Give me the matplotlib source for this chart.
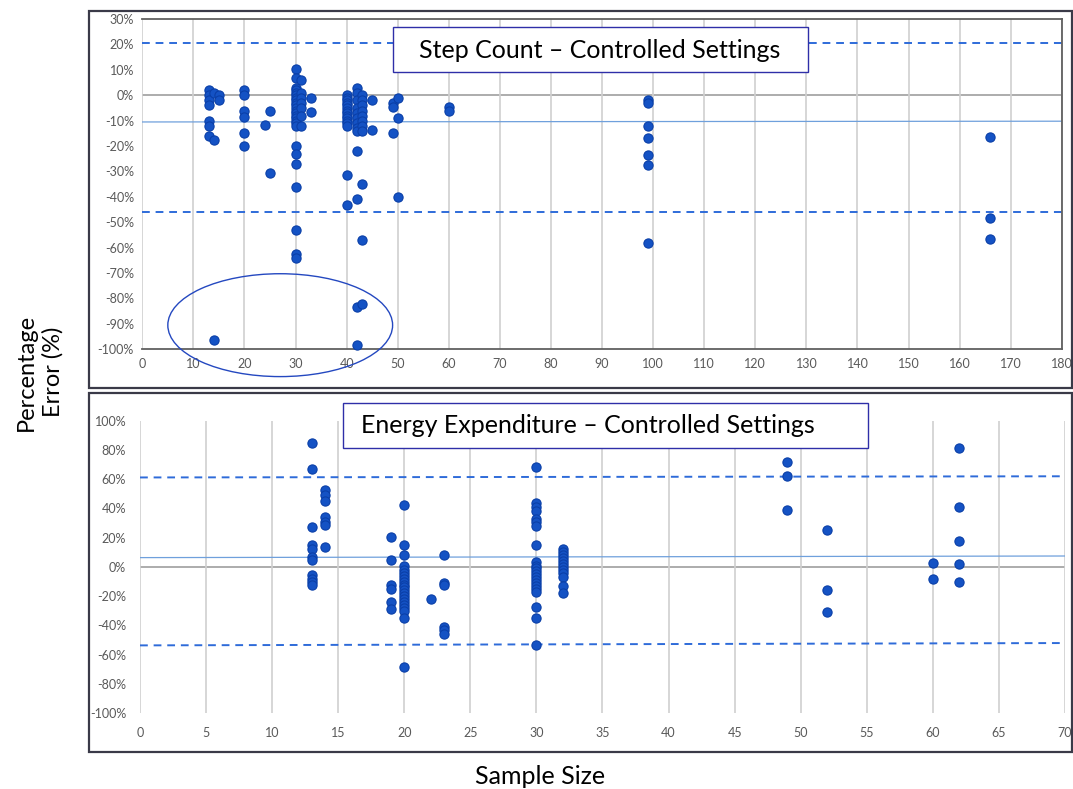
import matplotlib.pyplot as plt
from matplotlib.patches import Ellipse, Rectangle
from matplotlib.ticker import FuncFormatter, MultipleLocator

plt.rcParams['font.family'] = ['Lato', 'DejaVu Sans']

# Step count panel: sample size -> list of percentage errors
step_x = [13] * 7 + [14] * 3 + [15] * 2 + [20] * 6 + [24] + [25] * 2 \
    + [30] * 25 + [31] * 7 + [33] * 2 \
    + [40] * 15 + [42] * 13 + [43] * 11 + [45] * 2 + [49] * 3 + [50] * 3 \
    + [60] * 2 + [99] * 7 + [166] * 3
step_y = [2, 0, -2, -4, -10, -12, -16] + [1, -17.5, -96.5] + [0, -2] \
    + [2, 0, -6, -8.5, -15, -20] + [-11.5] + [-6, -30.5] \
    + [10.5, 7, 3, 2, 1, 0, -1, -2, -3, -4, -5, -6, -7, -8, -9, -10, -11, -12,
       -20, -23, -27, -36, -53, -62.5, -64] \
    + [6, 1, -1, -3, -5, -8, -12] + [-1, -6.5] \
    + [0, -1, -2, -3, -4, -5, -6, -7, -8, -9, -10, -11, -12, -31.5, -43] \
    + [3, 1, -2, -5, -7, -9, -11, -13, -14, -22, -41, -83.5, -98.5] \
    + [0, -2, -4, -6, -8, -10, -12, -14, -35, -57, -82] \
    + [-2, -13.5] + [-3, -4.5, -15] + [-1, -9, -40] \
    + [-4.5, -6] + [-2, -3, -12, -17, -23.5, -27.5, -58] + [-16.5, -48.5, -56.5]

step_mean = [-10.5, -10.2]
step_limits = [20.5, -46]

# Energy expenditure panel
ee_x = [13] * 11 + [14] * 7 + [19] * 6 + [20] * 21 + [22] + [23] * 6 \
    + [30] * 22 + [32] * 12 + [49] * 3 + [52] * 3 + [60] * 2 + [62] * 5
ee_y = [84.5, 67, 27, 15, 12.5, 7, 5, -5.5, -8, -10, -12.5] \
    + [52.5, 49, 45, 34, 31, 28.5, 13.5] \
    + [20.5, 5, -12.5, -15, -24, -28.5] \
    + [42.5, 15, 8.5, 1, -2, -4, -6, -8, -10, -12, -14, -16, -18, -20, -22,
       -24, -26, -28, -30, -35, -68.5] \
    + [-22] + [8.5, -11, -12.5, -41, -43, -45.5] \
    + [68.5, 43.5, 41, 38.5, 32.5, 30.5, 28, 15, 3.5, 1, -1, -3, -5, -7, -9,
       -11, -13, -15, -17, -27.5, -35, -53.5] \
    + [12, 10, 8, 6, 4, 2, 0, -2, -4, -7, -13, -18] \
    + [72, 62, 39] + [25.5, -16, -31] + [2.7, -8.5] + [81, 41, 17.5, 1.8, -10]

ee_mean = [6.4, 7.5]
ee_upper = [61.2, 62]
ee_lower = [-53.6, -52]

dot_face = '#1452C4'
dot_edge = '#0A3FA8'
dash_color = '#2E6BD9'
trend_color = '#6FA0DC'
tick_color = '#595959'

W, H = 1073, 789
fig = plt.figure(figsize=(W / 100, H / 100), dpi=100)


def px_rect(x0, y0, x1, y1, **kw):
    # rectangle given in pixel coords from the top-left corner
    fig.patches.append(Rectangle((x0 / W, 1 - y1 / H), (x1 - x0) / W, (y1 - y0) / H,
                                 transform=fig.transFigure, **kw))


# panel frames
px_rect(89, 11, 1072, 388, fill=False, edgecolor='#3A3A48', linewidth=1.6)
px_rect(89, 393, 1072, 752, fill=False, edgecolor='#3A3A48', linewidth=1.6)

pct = FuncFormatter(lambda v, p: f'{v:.0f}%')

# ---- Step count ----
ax1 = fig.add_axes([0.1326, 0.5573, 0.857, 0.4185])
ax1.set_xlim(0, 180)
ax1.set_ylim(-100, 30)
ax1.xaxis.set_major_locator(MultipleLocator(10))
ax1.yaxis.set_major_locator(MultipleLocator(10))
ax1.yaxis.set_major_formatter(pct)
ax1.grid(axis='x', color='#D0D0D0', linewidth=1.2)
ax1.axhline(0, color='#A6A6A6', linewidth=1.3, zorder=1)
for s in ['top', 'right', 'bottom']:
    ax1.spines[s].set_color('#606060')
    ax1.spines[s].set_linewidth(1.3)
ax1.spines['left'].set_visible(False)
ax1.tick_params(length=0, labelsize=9, colors=tick_color, pad=6)
ax1.plot([0, 180], step_mean, color=trend_color, linewidth=0.9, zorder=2)
for lim in step_limits:
    ax1.axhline(lim, color=dash_color, linestyle=(0, (4, 3)), linewidth=1.4, zorder=2)
ax1.scatter(step_x, step_y, s=44, color=dot_face, edgecolors=dot_edge,
            linewidths=0.8, zorder=3, clip_on=False)
ax1.add_patch(Ellipse((27, -90.5), 44, 40.5, fill=False, edgecolor='#2448C0',
                      linewidth=1.0, clip_on=False, zorder=4))

# ---- Energy expenditure ----
ax2 = fig.add_axes([0.1305, 0.096, 0.862, 0.3708])
ax2.set_xlim(0, 70)
ax2.set_ylim(-100, 100)
ax2.xaxis.set_major_locator(MultipleLocator(5))
ax2.yaxis.set_major_locator(MultipleLocator(20))
ax2.yaxis.set_major_formatter(pct)
ax2.grid(axis='x', color='#D0D0D0', linewidth=1.2)
ax2.axhline(0, color='#A6A6A6', linewidth=1.3, zorder=1)
for s in ax2.spines.values():
    s.set_visible(False)
ax2.tick_params(length=0, labelsize=9, colors=tick_color, pad=10)
ax2.plot([0, 70], ee_mean, color=trend_color, linewidth=0.9, zorder=2)
ax2.plot([0, 70], ee_upper, color=dash_color, linestyle=(0, (4, 3)), linewidth=1.4, zorder=2)
ax2.plot([0, 70], ee_lower, color=dash_color, linestyle=(0, (4, 3)), linewidth=1.4, zorder=2)
ax2.scatter(ee_x, ee_y, s=44, color=dot_face, edgecolors=dot_edge,
            linewidths=0.8, zorder=3, clip_on=False)

# title boxes
px_rect(393, 27, 808, 72, facecolor='white', edgecolor='#2F2FA8', linewidth=1.0, zorder=5)
fig.text(600 / W, 1 - 50 / H, 'Step Count – Controlled Settings', ha='center', va='center',
         fontsize=18, zorder=6)
px_rect(343, 403, 868, 448, facecolor='white', edgecolor='#2F2FA8', linewidth=1.0, zorder=5)
fig.text(588 / W, 1 - 426 / H, 'Energy Expenditure – Controlled Settings', ha='center',
         va='center', fontsize=18, zorder=6)

fig.text(40 / W, 1 - 372 / H, 'Percentage\nError (%)', rotation=90,
         ha='center', va='center', fontsize=17, linespacing=1.3)
fig.text(540 / W, 1 - 777 / H, 'Sample Size', ha='center', va='center', fontsize=18)

fig.savefig('out.png', dpi=100)
